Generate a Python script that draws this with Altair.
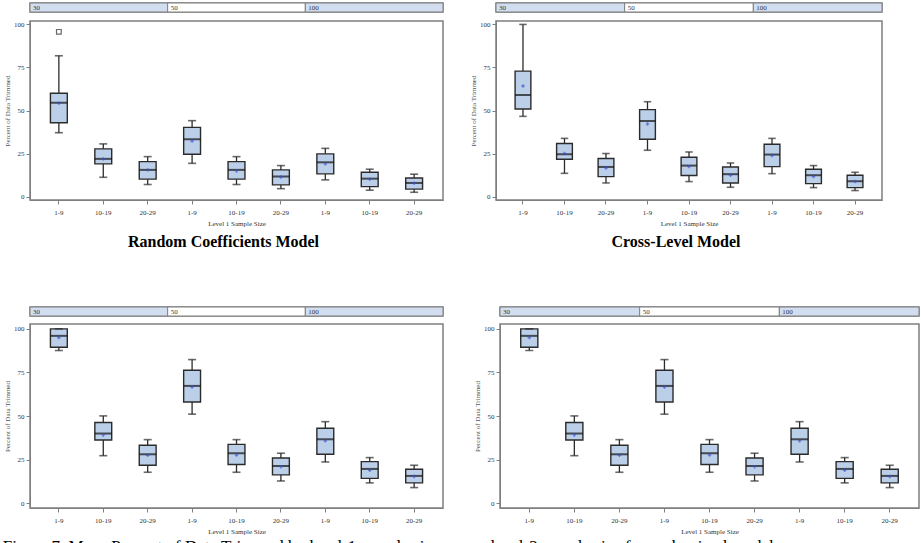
import altair as alt
import pandas as pd

groups = ["30", "50", "100"]
level1 = ["1-9", "10-19", "20-29"]
keys = [f"{g}|{l}" for g in groups for l in level1]

# Random Coefficients Model (top left)
rc_lower = [37.1, 11.2, 7.0, 19.3, 7.0, 4.6, 9.7, 3.7, 2.5]
rc_q1 = [42.9, 19.0, 10.1, 24.6, 10.1, 6.8, 13.2, 5.8, 4.3]
rc_median = [54.5, 21.9, 15.5, 33.3, 15.5, 11.6, 19.9, 10.4, 7.9]
rc_q3 = [60.0, 27.7, 20.3, 40.2, 20.3, 15.5, 24.8, 14.1, 10.8]
rc_upper = [81.8, 30.6, 23.2, 44.1, 23.2, 18.0, 28.0, 15.9, 13.0]
rc_mean = [54.2, 21.9, 15.5, 32.3, 14.9, 11.4, 19.0, 10.1, 7.7]
rc_outlier_keys = ["30|1-9"]
rc_outlier_vals = [95.7]

# Cross-Level Model (top right)
cl_lower = [46.6, 13.5, 7.9, 26.9, 8.7, 5.4, 13.3, 5.2, 3.5]
cl_q1 = [50.9, 21.7, 11.6, 33.3, 12.2, 7.9, 17.4, 7.5, 5.2]
cl_median = [59.0, 24.6, 17.2, 43.9, 18.0, 13.0, 24.4, 12.4, 8.9]
cl_q3 = [72.9, 30.8, 22.1, 50.5, 22.8, 17.2, 30.4, 15.9, 12.4]
cl_upper = [100.0, 33.8, 25.0, 55.1, 25.9, 19.5, 33.8, 18.0, 14.1]
cl_mean = [64.2, 25.0, 16.6, 42.2, 17.4, 12.4, 23.8, 11.6, 8.7]

# Bottom left
bl_lower = [87.6, 27.3, 17.8, 51.1, 17.8, 12.8, 23.7, 11.7, 9.0]
bl_q1 = [89.5, 36.3, 21.8, 58.1, 22.2, 16.3, 28.1, 14.3, 11.7]
bl_median = [96.0, 40.0, 28.1, 67.3, 28.7, 21.4, 36.7, 19.7, 15.7]
bl_q3 = [100.0, 46.3, 33.3, 76.3, 33.8, 26.0, 43.0, 23.9, 19.5]
bl_upper = [100.0, 50.1, 36.5, 82.4, 36.5, 28.7, 46.8, 26.2, 21.8]
bl_mean = [95.0, 39.2, 27.5, 66.7, 27.7, 21.0, 35.8, 18.9, 15.3]

# Bottom right
br_lower = [87.6, 27.3, 17.8, 51.1, 17.8, 12.8, 23.7, 11.7, 9.0]
br_q1 = [89.5, 36.3, 21.8, 58.1, 22.2, 16.3, 28.1, 14.3, 11.7]
br_median = [96.0, 40.0, 28.1, 67.3, 28.7, 21.4, 36.7, 19.7, 15.7]
br_q3 = [100.0, 46.3, 33.3, 76.3, 33.8, 26.0, 43.0, 23.9, 19.5]
br_upper = [100.0, 50.1, 36.5, 82.4, 36.5, 28.7, 46.8, 26.2, 21.8]
br_mean = [95.0, 39.2, 27.5, 66.7, 27.7, 21.0, 35.8, 18.9, 15.3]

y_ticks = [0, 25, 50, 75, 100]
y_title = "Percent of Data Trimmed"
x_title = "Level 1 Sample Size"
title_rc = "Random Coefficients Model"
title_cl = "Cross-Level Model"
caption = ("Figure 7. Mean Percent of Data Trimmed by level-1 sample size across "
           "level-2 sample size for each mixed model")

SERIF = "Liberation Serif"
DARK = "#2b2b2b"
BOXFILL = "#bccfe8"
STRIPFILL = "#d2def0"
FRAME = "#7f7f7f"


def strip(width):
    sdf = pd.DataFrame({"group": groups})
    x = alt.X("group:N", sort=groups,
              scale=alt.Scale(paddingInner=0, paddingOuter=0), axis=None)
    rect = alt.Chart(sdf).mark_rect(stroke=FRAME, strokeWidth=1).encode(
        x=x,
        color=alt.Color("group:N", scale=alt.Scale(domain=groups,
                        range=[STRIPFILL, "#ffffff", STRIPFILL]), legend=None),
    )
    txt = alt.Chart(sdf).mark_text(align="left", dx=3, fontSize=7, font=SERIF,
                                   color="#333333").encode(
        x=alt.X("group:N", sort=groups, bandPosition=0,
                scale=alt.Scale(paddingInner=0, paddingOuter=0), axis=None),
        text="group:N",
    )
    return alt.layer(rect, txt).properties(width=width, height=9)


def boxes(lower, q1, med, q3, upper, mean, width, height, ydom,
          out_keys=None, out_vals=None):
    df = pd.DataFrame({"key": keys, "lower": lower, "q1": q1, "median": med,
                       "q3": q3, "upper": upper, "mean": mean})
    step = width / 9.3
    bw = step * 0.38
    cw = step * 0.18
    yscale = alt.Scale(domain=ydom, nice=False, zero=False)
    xenc = alt.X("key:N", sort=keys,
                 scale=alt.Scale(paddingInner=0, paddingOuter=0.15),
                 title=x_title,
                 axis=alt.Axis(labelExpr="split(datum.label, '|')[1]",
                               labelAngle=0, labelFontSize=7, labelFont=SERIF,
                               labelColor="#333333", tickSize=4,
                               tickColor=FRAME, domainColor=FRAME,
                               labelPadding=4, titleFontSize=7,
                               titleFont=SERIF, titleFontWeight="normal",
                               titleColor="#333333", titlePadding=4))
    base = alt.Chart(df).encode(x=xenc)
    yaxis = alt.Axis(values=y_ticks, labelFontSize=7, labelFont=SERIF,
                     labelColor="#333333", tickSize=4, tickColor=FRAME,
                     domainColor=FRAME, labelPadding=2, grid=False,
                     minExtent=0, titleFontSize=7, titleFont=SERIF,
                     titleFontWeight="normal", titleColor="#555555",
                     titlePadding=3)
    wlo = base.mark_rule(color=DARK, strokeWidth=1.3).encode(
        y=alt.Y("lower:Q", scale=yscale, axis=yaxis, title=y_title), y2="q1:Q")
    whi = base.mark_rule(color=DARK, strokeWidth=1.3).encode(
        y=alt.Y("q3:Q"), y2="upper:Q")
    box = base.mark_bar(size=bw, fill=BOXFILL, stroke=DARK,
                        strokeWidth=1.4).encode(y="q1:Q", y2="q3:Q")
    medl = base.mark_tick(size=bw, thickness=2, color="#111111").encode(
        y="median:Q")
    caplo = base.mark_tick(size=cw, thickness=1.6, color=DARK).encode(
        y="lower:Q")
    caphi = base.mark_tick(size=cw, thickness=1.6, color=DARK).encode(
        y="upper:Q")
    mn = base.mark_point(shape="cross", filled=True, size=12,
                         color="#3a4fd6").encode(y="mean:Q")
    layers = [wlo, whi, box, medl, caplo, caphi, mn]
    if out_keys:
        odf = pd.DataFrame({"key": out_keys, "val": out_vals})
        layers.append(alt.Chart(odf).mark_point(shape="square", filled=False,
                                                size=22, color=DARK,
                                                strokeWidth=1.2).encode(
            x=alt.X("key:N", sort=keys), y="val:Q"))
    return alt.layer(*layers).properties(width=width, height=height)


def panel(stats, width, height, ydom, spacing, title=None, **kw):
    ch = alt.vconcat(strip(width), boxes(*stats, width, height, ydom, **kw),
                     spacing=spacing)
    if title:
        ch = ch.properties(title=alt.TitleParams(
            title, orient="bottom", anchor="middle", fontSize=16, font=SERIF,
            fontWeight="bold", color="#000000", offset=7))
    return ch


tl = panel((rc_lower, rc_q1, rc_median, rc_q3, rc_upper, rc_mean), 413, 179,
           [-2, 102], 5, title_rc, out_keys=rc_outlier_keys,
           out_vals=rc_outlier_vals)
tr = panel((cl_lower, cl_q1, cl_median, cl_q3, cl_upper, cl_mean), 386, 179,
           [-2, 102], 5, title_cl)
bl = panel((bl_lower, bl_q1, bl_median, bl_q3, bl_upper, bl_mean), 413, 184,
           [-2.7, 102.8], 5)
br = panel((br_lower, br_q1, br_median, br_q3, br_upper, br_mean), 419, 184,
           [-2.7, 102.8], 5)

top = alt.hconcat(tl, tr, spacing=23)
bottom = alt.hconcat(bl, br, spacing=27)

chart = alt.vconcat(top, bottom, spacing=55).properties(
    title=alt.TitleParams(caption, orient="bottom", anchor="start",
                          fontSize=17, font=SERIF, fontWeight="normal",
                          color="#000000", offset=4),
    padding={"left": 2, "top": 1, "right": 0, "bottom": 0},
).configure_view(stroke=FRAME, strokeWidth=1.5).configure_concat(spacing=20)

chart.save("out.html", embed_options={"renderer": "svg", "actions": False})
